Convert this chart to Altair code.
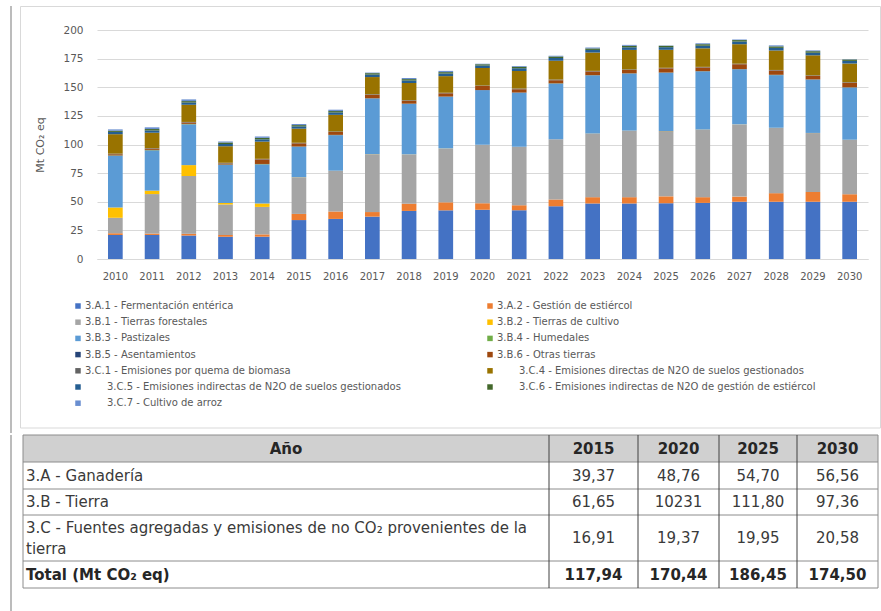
import altair as alt
import pandas as pd

FONT = "DejaVu Sans"

# ---------------- data ----------------
years = [str(y) for y in range(2010, 2031)]

series_names = [
    "3.A.1 - Fermentación entérica",
    "3.A.2 - Gestión de estiércol",
    "3.B.1 - Tierras forestales",
    "3.B.2 - Tierras de cultivo",
    "3.B.3 - Pastizales",
    "3.B.4 - Humedales",
    "3.B.5 - Asentamientos",
    "3.B.6 - Otras tierras",
    "3.C.1 - Emisiones por quema de biomasa",
    "3.C.4 - Emisiones directas de N2O de suelos gestionados",
    "3.C.5 - Emisiones indirectas de N2O de suelos gestionados",
    "3.C.6 - Emisiones indirectas de N2O de gestión de estiércol",
    "3.C.7 - Cultivo de arroz",
]
indented = [False] * 9 + [True] * 4

series_colors = [
    "#4472C4", "#ED7D31", "#A5A5A5", "#FFC000", "#5B9BD5", "#70AD47",
    "#264478", "#9E480E", "#636363", "#997300", "#255E91", "#43682B", "#698ED0",
]

# values 2010 ... 2030 (Mt CO2 eq)
a1 = [21, 21, 20.5, 19.5, 19.5, 34, 35, 37, 42, 42.5, 43, 42.5, 46, 48.5, 48.5, 48.7, 49, 50, 50, 50, 50]
a2 = [1.5, 1.2, 1.5, 1.5, 2, 5.37, 6.5, 4, 6.3, 7, 5.76, 4.5, 6, 5.5, 5.5, 6.0, 5, 4.5, 7.5, 8.5, 6.56]
b1 = [13.5, 34.5, 50.5, 26.5, 24, 32, 35.5, 50.5, 43, 47, 51, 51, 52.5, 55.5, 58, 57, 59, 63, 57, 51.5, 47.5]
b2 = [9, 3, 9.5, 1.5, 3, 0.1, 0.1, 0.1, 0.1, 0.1, 0.1, 0.1, 0.1, 0.1, 0.1, 0.1, 0.1, 0.1, 0.1, 0.1, 0.1]
b3 = [45, 35, 35.5, 33, 34, 26.5, 31, 48.5, 44, 45, 47.5, 47, 48.5, 50.7, 49.8, 50.8, 50.7, 48, 46, 46.5, 45.5]
b4 = [0.3, 0.3, 0.3, 0.3, 0.3, 0.1, 0.1, 0.1, 0.1, 0.1, 0.1, 0.1, 0.1, 0.1, 0.1, 0.1, 0.1, 0.1, 0.1, 0.1, 0.1]
b5 = [0.2, 0.3, 0.2, 0.2, 0.2, 0.2, 0.2, 0.2, 0.2, 0.2, 0.2, 0.2, 0.2, 0.2, 0.2, 0.2, 0.2, 0.2, 0.2, 0.2, 0.2]
b6 = [1, 1, 1.2, 1, 4, 2.75, 2.5, 3, 2.5, 2.8, 3.41, 2.9, 2.8, 3.2, 2.9, 3.6, 3.2, 4.2, 3.7, 3, 3.96]
c1 = [0.5] * 21
c4 = [17, 13.5, 15, 14.5, 15, 12.3, 14.5, 15, 15, 14.5, 15.2, 15.5, 16.5, 16, 17, 15.7, 16.2, 17, 17, 17.5, 16.3]
c5 = [2, 2, 2, 2, 2, 2, 2.1, 2.2, 2.2, 2.3, 2.2, 2.2, 2.3, 2.3, 2.3, 2.3, 2.3, 2.3, 2.3, 2.3, 2.3]
c6 = [1, 1.2, 1.2, 1.2, 1.3, 1.1, 1.2, 1.2, 1.2, 1.2, 1.2, 1.3, 1.3, 1.3, 1.3, 1.2, 1.3, 1.3, 1.3, 1.3, 1.2]
c7 = [1.2, 1.5, 1.5, 1, 1.2, 1.01, 1.2, 0.5, 1, 1.1, 0.27, 0.8, 0.8, 0.8, 0.8, 0.25, 0.8, 0.5, 0.9, 0.7, 0.28]
series_values = [a1, a2, b1, b2, b3, b4, b5, b6, c1, c4, c5, c6, c7]

y_ticks = [0, 25, 50, 75, 100, 125, 150, 175, 200]

# table
table_header = ["Año", "2015", "2020", "2025", "2030"]
table_rows = [
    "3.A - Ganadería",
    "3.B - Tierra",
    "3.C - Fuentes agregadas y emisiones de no CO₂ provenientes de la\ntierra",
    "Total (Mt CO₂ eq)",
]
row_ganaderia = ["39,37", "48,76", "54,70", "56,56"]
row_tierra = ["61,65", "10231", "111,80", "97,36"]
row_fuentes = ["16,91", "19,37", "19,95", "20,58"]
row_total = ["117,94", "170,44", "186,45", "174,50"]
table_values = [row_ganaderia, row_tierra, row_fuentes, row_total]

# ---------------- chart ----------------
IND = "\u2800" * 3
labels = [(IND + n) if ind else n for n, ind in zip(series_names, indented)]

recs = []
for si, (lab, vals) in enumerate(zip(labels, series_values)):
    for yr, v in zip(years, vals):
        recs.append({"Año": yr, "Serie": lab, "idx": si, "valor": v})
df = pd.DataFrame(recs)

bars = alt.Chart(df).mark_bar().encode(
    x=alt.X(
        "Año:O",
        scale=alt.Scale(paddingInner=0.6, paddingOuter=0.3),
        axis=alt.Axis(
            title=None, labelAngle=0, labelFont=FONT, labelFontSize=10,
            labelColor="#595959", ticks=False, tickSize=0, labelPadding=12,
            domainColor="#d9d9d9", domainWidth=1,
        ),
    ),
    y=alt.Y(
        "valor:Q",
        stack="zero",
        scale=alt.Scale(domain=[0, 200], nice=False),
        axis=alt.Axis(
            values=y_ticks, title="Mt CO₂ eq", titleFont=FONT, titleFontSize=11,
            titleFontWeight="normal", titleColor="#595959", titleAngle=270,
            titleX=-57, titleY=114.5, titleAlign="center", titleBaseline="middle",
            labelFont=FONT, labelFontSize=10.5, labelColor="#595959",
            labelPadding=14, ticks=False, tickSize=0, domain=False,
            gridColor="#d9d9d9", gridWidth=1,
        ),
    ),
    color=alt.Color(
        "Serie:N",
        sort=labels,
        scale=alt.Scale(domain=labels, range=series_colors),
        legend=alt.Legend(
            title=None, orient="none", legendX=-24, legendY=271, columns=2,
            direction="horizontal",
            columnPadding=84, rowPadding=6.2, symbolType="square", symbolSize=30,
            symbolStrokeWidth=0, labelFont=FONT, labelFontSize=10,
            labelColor="#595959", labelLimit=600, labelOffset=2, padding=0,
        ),
    ),
    order=alt.Order("idx:Q", sort="ascending"),
)

one = pd.DataFrame({"k": [0]})
box = alt.Chart(one).mark_rect(fillOpacity=0, stroke="#d9d9d9", strokeWidth=1).encode(
    x=alt.value(-76.5), x2=alt.value(783.5), y=alt.value(-23.5), y2=alt.value(398)
)
edge = alt.Chart(one).mark_rule(color="#a6a6a6", strokeWidth=1.5).encode(
    x=alt.value(-86), y=alt.value(-24), y2=alt.value(403)
)

PW, PH = 771, 229
chart_top = alt.layer(edge, box, bars).properties(width=PW, height=PH)

# ---------------- table (same horizontal origin as the plot) ----------------
col_w = [526, 89, 81, 78, 81]
row_h = [27, 27, 26, 46, 27]
T_LEFT = -74
TH = 176

xe = [T_LEFT]
for w in col_w:
    xe.append(xe[-1] + w)
ye = [0]
for h in row_h:
    ye.append(ye[-1] + h)

xs = alt.Scale(domain=[0, PW], nice=False, zero=False)
ys = alt.Scale(domain=[0, TH], nice=False, zero=False, reverse=True)

hdr_bg = pd.DataFrame({"x0": [xe[0]], "x1": [xe[-1]], "y0": [ye[0]], "y1": [ye[1]]})
hlines = pd.DataFrame({"y": ye, "x0": xe[0], "x1": xe[-1]})
vl_out = pd.DataFrame({"x": [xe[0], xe[-1]], "y0": 0, "y1": ye[-1]})
vl_in = pd.DataFrame({"x": xe[1:-1], "y0": 0, "y1": ye[-1]})
outer = pd.DataFrame({"x": [-86], "y0": [0], "y1": [TH]})

centers_x = [(xe[i] + xe[i + 1]) / 2 for i in range(len(col_w))]
centers_y = [(ye[i] + ye[i + 1]) / 2 for i in range(len(row_h))]

head_df = pd.DataFrame({"t": table_header, "x": centers_x, "y": centers_y[0]})
lab1_df = pd.DataFrame({"t": table_rows[:2], "x": T_LEFT + 3, "y": centers_y[1:3]})
lab2_df = pd.DataFrame({"t": [table_rows[2]], "x": [T_LEFT + 3], "y": [centers_y[3]]})
tot_lab_df = pd.DataFrame({"t": [table_rows[-1]], "x": [T_LEFT + 3], "y": [centers_y[-1]]})
val_recs = []
for ri, vals in enumerate(table_values[:-1]):
    for ci, v in enumerate(vals):
        val_recs.append({"t": v, "x": centers_x[ci + 1], "y": centers_y[ri + 1]})
val_df = pd.DataFrame(val_recs)
tot_df = pd.DataFrame({"t": row_total, "x": centers_x[1:], "y": centers_y[-1]})

bg = alt.Chart(hdr_bg).mark_rect(fill="#d0d0d0").encode(
    x=alt.X("x0:Q", scale=xs, axis=None), x2="x1:Q",
    y=alt.Y("y0:Q", scale=ys, axis=None), y2="y1:Q",
)
hl = alt.Chart(hlines).mark_rule(color="#8c8c8c", strokeWidth=1).encode(
    x=alt.X("x0:Q", scale=xs, axis=None), x2="x1:Q",
    y=alt.Y("y:Q", scale=ys, axis=None),
)
vo = alt.Chart(vl_out).mark_rule(color="#8c8c8c", strokeWidth=1).encode(
    x=alt.X("x:Q", scale=xs, axis=None),
    y=alt.Y("y0:Q", scale=ys, axis=None), y2="y1:Q",
)
vi = alt.Chart(vl_in).mark_rule(color="#404040", strokeWidth=1).encode(
    x=alt.X("x:Q", scale=xs, axis=None),
    y=alt.Y("y0:Q", scale=ys, axis=None), y2="y1:Q",
)
ol = alt.Chart(outer).mark_rule(color="#a6a6a6", strokeWidth=1.5).encode(
    x=alt.X("x:Q", scale=xs, axis=None),
    y=alt.Y("y0:Q", scale=ys, axis=None), y2="y1:Q",
)


def txt(data, align, bold, dy=0):
    return alt.Chart(data).mark_text(
        align=align, baseline="middle", font=FONT, fontSize=15,
        fontWeight="bold" if bold else "normal",
        color="#262626" if bold else "#3a3a3a",
        lineBreak="\n", lineHeight=21, dy=dy,
    ).encode(
        x=alt.X("x:Q", scale=xs, axis=None),
        y=alt.Y("y:Q", scale=ys, axis=None),
        text="t:N",
    )


table = alt.layer(
    ol, bg, hl, vo, vi,
    txt(head_df, "center", True),
    txt(lab1_df, "left", False),
    txt(lab2_df, "left", False, dy=-10.5),
    txt(tot_lab_df, "left", True),
    txt(val_df, "center", False),
    txt(tot_df, "center", True),
).properties(width=PW, height=TH)

chart = alt.vconcat(chart_top, table, spacing=0).properties(
    padding={"left": 10, "top": 5, "right": 0, "bottom": 0},
    background="white",
).configure_view(strokeWidth=0)

chart.save("out.html", embed_options={"renderer": "svg", "actions": False})
